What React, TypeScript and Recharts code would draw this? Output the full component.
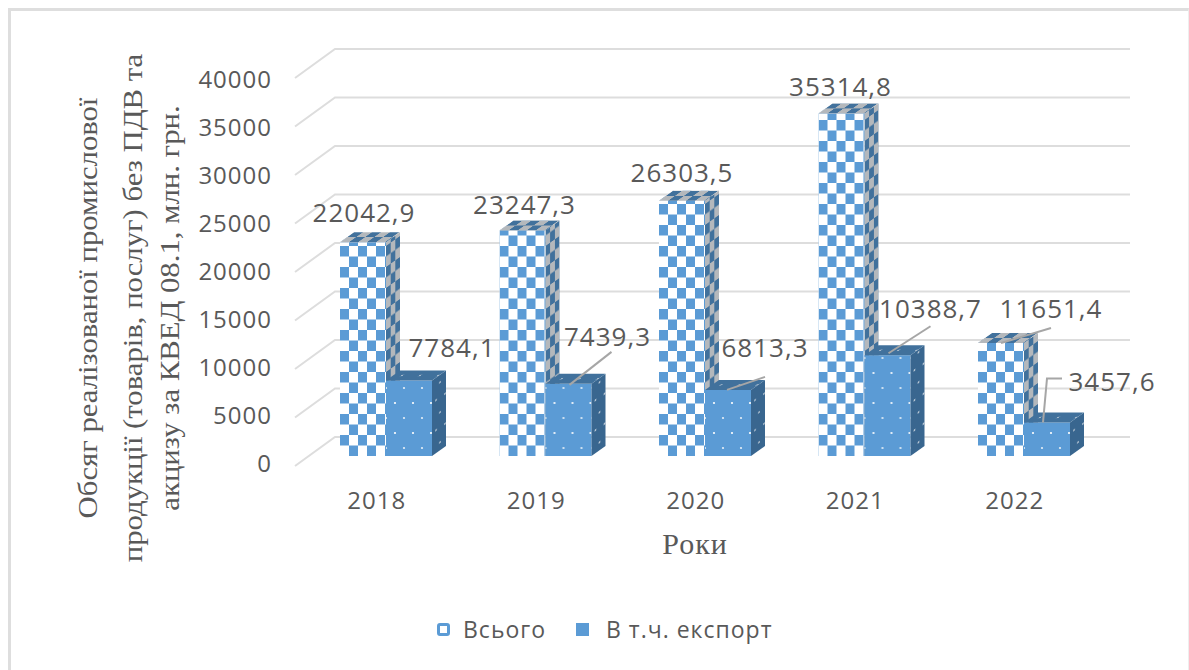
import { Bar, BarChart, CartesianGrid, LabelList, Legend, XAxis, YAxis } from 'recharts'

const YEARS = ['2018', '2019', '2020', '2021', '2022']
const TOTAL = [22042.9, 23247.3, 26303.5, 35314.8, 11651.4]
const EXPORT = [7784.1, 7439.3, 6813.3, 10388.7, 3457.6]
const Y_TICKS = [0, 5000, 10000, 15000, 20000, 25000, 30000, 35000, 40000]
const Y_TITLE = [
  'Обсяг реалізованої промислової',
  'продукції (товарів, послуг) без ПДВ та',
  'акцизу за КВЕД 08.1, млн. грн.',
]

const data = YEARS.map((year, i) => ({ year, total: TOTAL[i], export: EXPORT[i] }))

const W = 1189
const H = 670
const BLUE = '#5B9BD5'
const TEXT = '#595959'
const SANS = '"Open Sans", sans-serif'
const SERIF = '"Liberation Serif", serif'
const DX = 14
const DY = 10
const BASE = 456

// label placement relative to the front top centre of each bar: [dx, dy, leader points]
type Place = { dx: number; dy: number; leader?: number[][] }
const TOTAL_PLACE: Place[] = [
  { dx: 1, dy: -30 },
  { dx: 2, dy: -27 },
  { dx: 0, dy: -29 },
  { dx: -1, dy: -27 },
  { dx: 50, dy: -35, leader: [[0, 0], [50, -15]] },
]
const EXPORT_PLACE: Place[] = [
  { dx: 43, dy: -33 },
  { dx: 39, dy: -48, leader: [[1, 1], [43, -32]] },
  { dx: 37, dy: -43, leader: [[-1, 0], [37, -13]] },
  { dx: 43, dy: -47, leader: [[1, -2], [43, -29]] },
  { dx: 65, dy: -41, leader: [[-4, 0], [0, -44], [15, -44]] },
]

function GridLine(props: any) {
  const { y1, key } = props
  const back = y1 - 19
  return (
    <g key={key}>
      <polyline
        points={`295,${y1 + 10} 335,${back} 1130,${back}`}
        fill="none"
        stroke="#DDDDDD"
        strokeWidth={2}
      />
    </g>
  )
}

function YTick({ y, payload }: any) {
  const ty = 462 - ((BASE - y) * 384) / 388
  return (
    <text x={272} y={ty} textAnchor="end" dominantBaseline="central" fontFamily={SANS} fontSize={24} letterSpacing={1} fill={TEXT}>
      {payload.value}
    </text>
  )
}

function XTick({ x, payload }: any) {
  return (
    <text x={x - 9} y={499} textAnchor="middle" dominantBaseline="central" fontFamily={SANS} fontSize={24} letterSpacing={1} fill={TEXT}>
      {payload.value}
    </text>
  )
}

function Box3D({ x, y, width, height, front, side, top }: any) {
  return (
    <g>
      <g transform={`translate(${x},${y + height})`}>
        <rect x={0} y={-height} width={width} height={height} fill={`url(#${front})`} />
      </g>
      <g transform={`matrix(1,${-DY / DX},0,1,${x + width},${y + height})`}>
        <rect x={0} y={-height} width={DX} height={height} fill={`url(#${side})`} />
      </g>
      <g transform={`matrix(1,0,${-DX / DY},1,${x},${y})`}>
        <rect x={0} y={-DY} width={width} height={DY} fill={`url(#${top})`} />
      </g>
    </g>
  )
}

function CheckerBar(props: any) {
  return <Box3D {...props} front="checkFront" side="checkSide" top="checkTop" />
}

function DottedBar(props: any) {
  return <Box3D {...props} front="dotFront" side="dotSide" top="dotTop" />
}

const makeLabel = (places: Place[]) =>
  function ValueLabel({ x, y, width, value, index }: any) {
    const place = places[index]
    const cx = x + width / 2
    return (
      <g>
        {place.leader && (
          <polyline
            points={place.leader.map(([a, b]) => `${cx + a},${y + b}`).join(' ')}
            fill="none"
            stroke="#A6A6A6"
            strokeWidth={2}
          />
        )}
        <text
          x={cx + place.dx}
          y={y + place.dy}
          textAnchor="middle"
          dominantBaseline="central"
          fontFamily={SANS}
          fontSize={26}
          letterSpacing={1}
          fill={TEXT}
        >
          {String(value).replace('.', ',')}
        </text>
      </g>
    )
  }

function YTitle() {
  const xs = [88, 133, 170]
  return (
    <g>
      {Y_TITLE.map((line, i) => (
        <text
          key={line}
          transform={`translate(${xs[i]},308) rotate(-90) scale(1.28,1.1)`}
          textAnchor="middle"
          dominantBaseline="central"
          fontFamily={SERIF}
          fontSize={24}
          fill={TEXT}
        >
          {line}
        </text>
      ))}
    </g>
  )
}

function XTitle() {
  return (
    <text x={695} y={543} textAnchor="middle" dominantBaseline="central" fontFamily={SERIF} fontSize={30} letterSpacing={1} fill={TEXT}>
      Роки
    </text>
  )
}

function LegendRow({ payload }: any) {
  const lefts = [437, 576]
  const gaps = [13, 17]
  return (
    <div style={{ position: 'relative', width: W, height: 40 }}>
      {(payload ?? []).map((item: any, i: number) => (
        <div
          key={item.value}
          style={{
            position: 'absolute',
            left: lefts[i],
            top: 0,
            height: 40,
            display: 'flex',
            alignItems: 'center',
            fontFamily: SANS,
            fontSize: 23,
            letterSpacing: 1,
            color: TEXT,
            whiteSpace: 'nowrap',
          }}
        >
          <span
            style={{
              display: 'inline-block',
              width: 13,
              height: 13,
              boxSizing: 'border-box',
              marginRight: gaps[i],
              borderRadius: i === 0 ? 3 : 0,
              border: `3px solid ${BLUE}`,
              background: i === 0 ? '#fff' : BLUE,
            }}
          />
          {item.value}
        </div>
      ))}
    </div>
  )
}

export default function App() {
  return (
    <div style={{ position: 'absolute', left: 0, top: 0, width: W, height: H, background: '#fff' }}>
      <div
        style={{
          position: 'absolute',
          left: 8,
          top: 8,
          width: 1181,
          height: 662,
          borderLeft: '3px solid #DEDEDE',
          borderTop: '3px solid #DEDEDE',
          borderRight: '1px solid #EEEEEE',
          boxSizing: 'border-box',
        }}
      />
      <BarChart
        width={W}
        height={H}
        data={data}
        barSize={46}
        barGap={0}
        margin={{ top: 68, left: 236, right: 85.5, bottom: 74 }}
        style={{ position: 'absolute', left: 0, top: 0 }}
      >
        <defs>
          <pattern id="checkFront" patternUnits="userSpaceOnUse" width={18} height={21}>
            <rect width={18} height={21} fill="#fff" />
            <rect x={0} y={0} width={9} height={10.5} fill={BLUE} />
            <rect x={9} y={10.5} width={9} height={10.5} fill={BLUE} />
          </pattern>
          <pattern id="checkSide" patternUnits="userSpaceOnUse" width={9.34} height={21}>
            <rect width={9.34} height={21} fill="#B4B8BC" />
            <rect x={0} y={0} width={4.67} height={10.5} fill="#41719C" />
            <rect x={4.67} y={10.5} width={4.67} height={10.5} fill="#41719C" />
          </pattern>
          <pattern id="checkTop" patternUnits="userSpaceOnUse" width={18} height={10}>
            <rect width={18} height={10} fill="#B4B8BC" />
            <rect x={0} y={0} width={9} height={5} fill="#41719C" />
            <rect x={9} y={5} width={9} height={5} fill="#41719C" />
          </pattern>
          <pattern id="dotFront" patternUnits="userSpaceOnUse" width={18} height={30}>
            <rect width={18} height={30} fill={BLUE} />
            <circle cx={9} cy={7} r={1.1} fill="#fff" />
            <circle cx={0} cy={22} r={1.1} fill="#E6EEF6" />
            <circle cx={18} cy={22} r={1.1} fill="#E6EEF6" />
          </pattern>
          <pattern id="dotSide" patternUnits="userSpaceOnUse" width={9} height={30}>
            <rect width={9} height={30} fill="#39668F" />
            <circle cx={4} cy={7} r={0.9} fill="#C9D4DE" />
            <circle cx={8} cy={22} r={0.9} fill="#C9D4DE" />
          </pattern>
          <pattern id="dotTop" patternUnits="userSpaceOnUse" width={18} height={10}>
            <rect width={18} height={10} fill="#41719C" />
            <circle cx={9} cy={5} r={0.8} fill="#C9D4DE" />
          </pattern>
        </defs>
        <CartesianGrid vertical={false} horizontal={GridLine as any} />
        <XAxis
          dataKey="year"
          axisLine={false}
          tickLine={false}
          height={100}
          tick={XTick as any}
          label={<XTitle />}
        />
        <YAxis
          domain={[0, 40000]}
          ticks={Y_TICKS}
          width={70}
          axisLine={false}
          tickLine={false}
          tick={YTick as any}
          label={<YTitle />}
        />
        <Legend
          content={LegendRow as any}
          itemSorter={null}
          wrapperStyle={{ left: 0, top: 609, bottom: 'auto', width: W, height: 40 }}
        />
        <Bar dataKey="total" name="Всього" fill={BLUE} shape={CheckerBar as any} isAnimationActive={false}>
          <LabelList dataKey="total" content={makeLabel(TOTAL_PLACE) as any} />
        </Bar>
        <Bar dataKey="export" name="В т.ч. експорт" fill={BLUE} shape={DottedBar as any} isAnimationActive={false}>
          <LabelList dataKey="export" content={makeLabel(EXPORT_PLACE) as any} />
        </Bar>
      </BarChart>
    </div>
  )
}
